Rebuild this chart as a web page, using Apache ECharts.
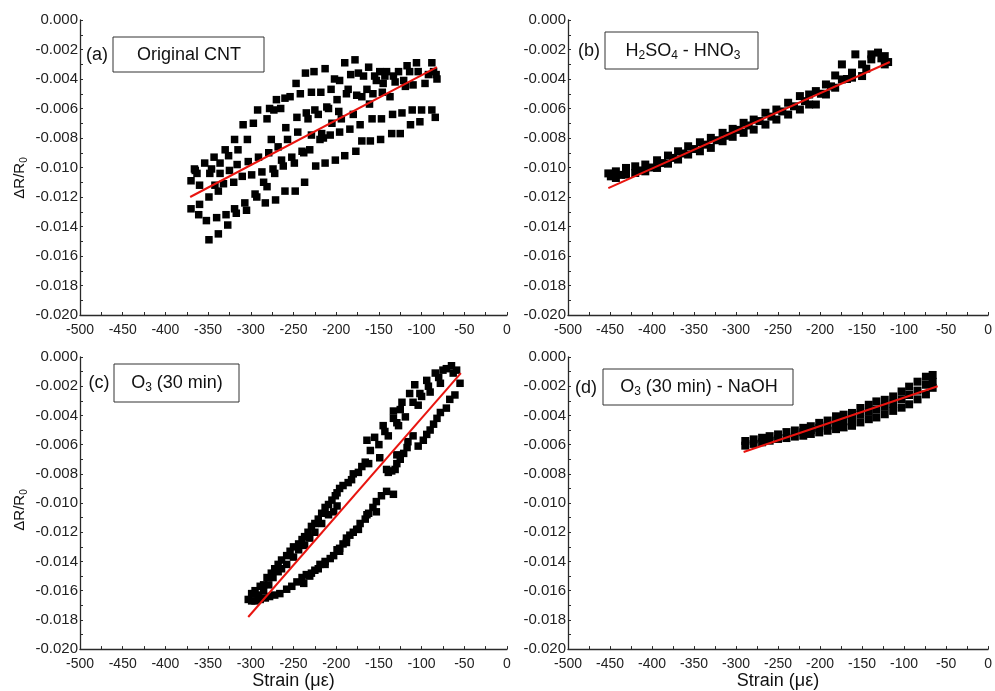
<!DOCTYPE html>
<html>
<head>
<meta charset="utf-8">
<script src="https://cdn.jsdelivr.net/npm/echarts@6/dist/echarts.min.js"></script>
<style>
  html, body { margin: 0; padding: 0; background: #fff; }
  #chart { width: 995px; height: 691px; }
</style>
</head>
<body>
<div id="chart"></div>
<script>
// (a) Original CNT  -- strain (με), ΔR/R0
const pointsA = [
  [-370,-0.0109],[-370,-0.0128],[-366,-0.0101],[-365,-0.0102],[-363,-0.0104],[-360,-0.0112],[-361,-0.0132],[-360,-0.0125],
  [-354,-0.0097],[-352,-0.0136],[-349,-0.0149],[-349,-0.0120],[-348,-0.0104],[-346,-0.0101],[-343,-0.0093],[-342,-0.0112],
  [-340,-0.0134],[-338,-0.0145],[-338,-0.0116],[-336,-0.0097],[-336,-0.0104],[-332,-0.0111],[-330,-0.0088],[-329,-0.0132],
  [-327,-0.0139],[-326,-0.0092],[-325,-0.0102],[-320,-0.0110],[-319,-0.0081],[-319,-0.0128],[-317,-0.0131],[-316,-0.0098],
  [-315,-0.0088],[-310,-0.0106],[-309,-0.0071],[-307,-0.0124],[-305,-0.0129],[-304,-0.0081],[-303,-0.0096],[-299,-0.0105],
  [-297,-0.0070],[-295,-0.0118],[-293,-0.0120],[-292,-0.0061],[-291,-0.0093],[-287,-0.0103],[-285,-0.0110],[-283,-0.0124],
  [-281,-0.0113],[-281,-0.0067],[-279,-0.0090],[-278,-0.0060],[-276,-0.0081],[-274,-0.0101],[-273,-0.0061],[-272,-0.0104],
  [-271,-0.0122],[-270,-0.0054],[-268,-0.0086],[-265,-0.0060],[-264,-0.0095],[-262,-0.0099],[-260,-0.0053],[-259,-0.0073],
  [-260,-0.0116],[-257,-0.0081],[-254,-0.0052],[-252,-0.0093],[-249,-0.0097],[-248,-0.0116],[-247,-0.0043],[-246,-0.0066],
  [-245,-0.0076],[-242,-0.0050],[-240,-0.0089],[-238,-0.0090],[-236,-0.0036],[-237,-0.0110],[-235,-0.0063],[-233,-0.0067],
  [-231,-0.0088],[-229,-0.0078],[-229,-0.0049],[-226,-0.0035],[-225,-0.0061],[-224,-0.0099],[-221,-0.0064],[-219,-0.0081],
  [-218,-0.0049],[-217,-0.0077],[-215,-0.0080],[-213,-0.0033],[-213,-0.0097],[-211,-0.0059],[-209,-0.0060],[-207,-0.0078],
  [-205,-0.0070],[-206,-0.0047],[-202,-0.0040],[-201,-0.0095],[-199,-0.0054],[-197,-0.0062],[-196,-0.0041],[-196,-0.0076],
  [-194,-0.0067],[-190,-0.0029],[-190,-0.0092],[-188,-0.0050],[-186,-0.0047],[-184,-0.0074],[-183,-0.0037],[-180,-0.0064],
  [-178,-0.0027],[-177,-0.0089],[-176,-0.0051],[-174,-0.0036],[-172,-0.0071],[-170,-0.0052],[-170,-0.0082],[-168,-0.0038],
  [-164,-0.0047],[-162,-0.0032],[-161,-0.0057],[-160,-0.0082],[-158,-0.0067],[-157,-0.0050],[-155,-0.0038],[-153,-0.0041],
  [-149,-0.0035],[-148,-0.0081],[-147,-0.0067],[-146,-0.0049],[-145,-0.0043],[-143,-0.0038],[-141,-0.0035],[-137,-0.0052],
  [-135,-0.0077],[-134,-0.0064],[-133,-0.0038],[-131,-0.0042],[-127,-0.0035],[-125,-0.0077],[-123,-0.0063],[-121,-0.0041],
  [-119,-0.0045],[-117,-0.0031],[-114,-0.0035],[-113,-0.0071],[-111,-0.0061],[-110,-0.0044],[-106,-0.0029],[-104,-0.0035],
  [-102,-0.0069],[-100,-0.0061],[-96,-0.0043],[-92,-0.0037],[-88,-0.0029],[-88,-0.0061],[-86,-0.0035],[-84,-0.0066],
  [-83,-0.0037],[-82,-0.0040]
];
const fitA = [[-371,-0.0120],[-82,-0.0032]];

// (b) H2SO4 - HNO3
const pointsB = [
  [-452,-0.01040],[-449,-0.01060],[-443,-0.01026],[-443,-0.01071],[-431,-0.01003],[-431,-0.01048],[-420,-0.00992],[-420,-0.01037],
  [-408,-0.00980],[-408,-0.01026],[-394,-0.00951],[-394,-0.01003],[-381,-0.00919],[-381,-0.00974],[-369,-0.00890],[-369,-0.00946],
  [-357,-0.00856],[-357,-0.00912],[-343,-0.00829],[-343,-0.00890],[-330,-0.00799],[-330,-0.00867],[-316,-0.00765],[-316,-0.00822],
  [-304,-0.00738],[-304,-0.00792],[-291,-0.00697],[-291,-0.00765],[-279,-0.00675],[-279,-0.00743],[-265,-0.00629],[-265,-0.00709],
  [-252,-0.00607],[-252,-0.00675],[-238,-0.00561],[-238,-0.00641],[-224,-0.00516],[-224,-0.00607],[-213,-0.00505],[-213,-0.00573],
  [-205,-0.00482],[-205,-0.00573],[-193,-0.00437],[-193,-0.00505],[-182,-0.00376],[-182,-0.00459],[-174,-0.00301],[-174,-0.00403],
  [-162,-0.00357],[-162,-0.00391],[-158,-0.00233],[-150,-0.00301],[-150,-0.00380],[-139,-0.00233],[-139,-0.00267],[-131,-0.00221],
  [-123,-0.00245],[-123,-0.00301],[-119,-0.00285],
  [-437,-0.01050],[-414,-0.01020],[-401,-0.01000],[-388,-0.00970],[-375,-0.00935],[-363,-0.00905],[-350,-0.00875],
  [-337,-0.00845],[-323,-0.00815],[-310,-0.00785],[-297,-0.00745],[-285,-0.00715],[-272,-0.00685],[-258,-0.00655],
  [-245,-0.00620],[-231,-0.00585],[-218,-0.00550],[-199,-0.00500],[-187,-0.00450],[-168,-0.00400],[-145,-0.00330],
  [-127,-0.00260]
];
const fitB = [[-452,-0.0114],[-117,-0.00285]];

// (c) O3 (30 min)
const pointsC = [
  [-303,-0.0166],[-299,-0.0162],[-295,-0.0160],[-289,-0.0157],[-285,-0.0156],[-281,-0.0151],[-276,-0.0148],[-272,-0.0145],
  [-268,-0.0142],[-264,-0.0139],[-258,-0.0136],[-254,-0.0133],[-250,-0.0130],[-244,-0.0128],[-240,-0.0125],[-237,-0.0123],
  [-233,-0.0120],[-229,-0.0116],[-225,-0.0114],[-221,-0.0111],[-217,-0.0107],[-213,-0.0103],[-209,-0.0101],[-205,-0.0098],
  [-201,-0.0095],[-199,-0.0093],[-196,-0.0090],[-192,-0.0088],[-186,-0.0086],[-182,-0.0084],[-180,-0.0080],[-174,-0.0079],
  [-170,-0.0075],[-166,-0.0072],[-162,-0.0073],[-160,-0.0064],[-164,-0.0057],[-155,-0.0055],[-150,-0.0060],[-145,-0.0047],
  [-143,-0.0051],[-139,-0.0054],[-133,-0.0037],[-133,-0.0042],[-129,-0.0045],[-127,-0.0047],[-125,-0.0036],[-119,-0.0041],
  [-123,-0.0031],[-114,-0.0025],[-108,-0.0019],[-110,-0.0031],[-104,-0.0033],[-102,-0.0025],[-100,-0.0027],[-94,-0.0016],
  [-92,-0.0020],[-90,-0.0024],[-84,-0.0011],[-80,-0.0014],[-78,-0.0018],[-75,-0.0009],[-71,-0.0008],[-65,-0.0006],
  [-63,-0.0011],[-59,-0.0009],
  [-55,-0.0018],[-61,-0.0026],[-67,-0.0029],[-71,-0.0035],[-78,-0.0038],[-82,-0.0042],[-86,-0.0046],[-90,-0.0050],
  [-94,-0.0053],[-98,-0.0057],[-104,-0.0061],[-110,-0.0054],[-116,-0.0058],[-117,-0.0062],[-121,-0.0066],[-125,-0.0070],
  [-129,-0.0073],[-131,-0.0077],[-135,-0.0078],[-139,-0.0079],[-149,-0.0069],[-141,-0.0077],[-129,-0.0067],
  [-133,-0.0094],[-141,-0.0092],[-147,-0.0095],[-153,-0.0099],[-157,-0.0103],[-162,-0.0107],[-166,-0.0111],[-172,-0.0114],
  [-176,-0.0118],[-180,-0.0120],[-184,-0.0122],[-188,-0.0124],[-192,-0.0128],[-196,-0.0131],[-199,-0.0132],[-203,-0.0136],
  [-207,-0.0138],[-213,-0.0140],[-219,-0.0142],[-225,-0.0146],[-229,-0.0148],[-235,-0.0149],[-240,-0.0151],[-246,-0.0154],
  [-252,-0.0157],[-258,-0.0159],[-266,-0.0162],[-272,-0.0163],[-278,-0.0164],[-283,-0.0165],[-289,-0.0166],[-295,-0.0167],
  [-299,-0.0167],[-153,-0.0106],[-164,-0.0108],[-174,-0.0118],[-188,-0.0127],[-196,-0.0133],[-213,-0.0142],[-221,-0.0145],
  [-231,-0.0150],[-238,-0.0155],
  [-199,-0.0102],[-203,-0.0106],[-209,-0.0108],[-217,-0.0114],[-225,-0.0120],[-231,-0.0124],[-237,-0.0129],[-244,-0.0132],
  [-250,-0.0137],[-258,-0.0142],[-264,-0.0145],[-268,-0.0147],[-274,-0.0151],[-279,-0.0156],[-285,-0.0160],[-291,-0.0163]
];
const fitC = [[-303,-0.0178],[-54,-0.0011]];

// (d) O3 (30 min) - NaOH
const pointsD = [
  [-289,-0.00575],[-289,-0.00607],[-279,-0.00564],[-279,-0.00595],[-269,-0.00553],[-269,-0.00584],
  [-260,-0.00542],[-260,-0.00573],[-250,-0.00530],[-250,-0.00561],[-240,-0.00514],[-240,-0.00555],
  [-230,-0.00503],[-230,-0.00545],[-220,-0.00485],[-220,-0.00515],[-220,-0.00539],
  [-211,-0.00474],[-211,-0.00500],[-211,-0.00527],[-201,-0.00451],[-201,-0.00485],[-201,-0.00516],
  [-191,-0.00435],[-191,-0.00470],[-191,-0.00505],[-181,-0.00406],[-181,-0.00450],[-181,-0.00494],
  [-172,-0.00395],[-172,-0.00440],[-172,-0.00482],[-162,-0.00383],[-162,-0.00425],[-162,-0.00471],
  [-152,-0.00349],[-152,-0.00395],[-152,-0.00448],[-142,-0.00327],[-142,-0.00375],[-142,-0.00426],
  [-133,-0.00304],[-133,-0.00360],[-133,-0.00414],[-123,-0.00293],[-123,-0.00340],[-123,-0.00392],
  [-113,-0.00270],[-113,-0.00320],[-113,-0.00369],[-103,-0.00236],[-103,-0.00290],[-103,-0.00347],
  [-94,-0.00203],[-94,-0.00260],[-94,-0.00324],[-84,-0.00169],[-84,-0.00230],[-84,-0.00290],
  [-74,-0.00135],[-74,-0.00190],[-74,-0.00256],[-66,-0.00123],[-66,-0.00170],[-66,-0.00211]
];
const fitD = [[-291,-0.0065],[-60,-0.0020]];

const panelTags = ["(a)", "(b)", "(c)", "(d)"];
const panelNames = ["Original CNT", "H{s|2}SO{s|4} - HNO{s|3}", "O{s|3} (30 min)", "O{s|3} (30 min) - NaOH"];

const FONT = 'Arial, "Liberation Sans", sans-serif';
const AXIS_COLOR = "#2a2a2a";

let chart = echarts.init(document.getElementById("chart"));

// grid boxes, left/top in pixels
const grids = [
  { left: 80, top: 20, width: 427, height: 295 },
  { left: 568, top: 20, width: 427, height: 295 },
  { left: 80, top: 357, width: 427, height: 295 },
  { left: 568, top: 357, width: 427, height: 295 }
];

function xAxisFor(i) {
  return {
    type: "value", gridIndex: i, min: -500, max: 0, interval: 50,
    name: i >= 2 ? "Strain (\u03bc\u03b5)" : "",
    nameLocation: "middle", nameGap: 21,
    nameTextStyle: { fontFamily: FONT, fontSize: 18, color: "#111" },
    axisLine: { show: true, onZero: false, lineStyle: { color: AXIS_COLOR, width: 1.3 } },
    axisTick: { show: true, inside: true, length: 3, lineStyle: { color: AXIS_COLOR } },
    minorTick: { show: true, splitNumber: 2, length: 3, lineStyle: { color: AXIS_COLOR } },
    splitLine: { show: false },
    axisLabel: { fontFamily: FONT, fontSize: 14, color: "#222", margin: 8, hideOverlap: false,
                 showMinLabel: true, showMaxLabel: true }
  };
}

function yAxisFor(i) {
  return {
    type: "value", gridIndex: i, min: -0.02, max: 0, interval: 0.002,
    axisLine: { show: true, onZero: false, lineStyle: { color: AXIS_COLOR, width: 1.3 } },
    axisTick: { show: true, inside: true, length: 3, lineStyle: { color: AXIS_COLOR } },
    minorTick: { show: true, splitNumber: 2, length: 3, lineStyle: { color: AXIS_COLOR } },
    splitLine: { show: false },
    axisLabel: { fontFamily: FONT, fontSize: 15, color: "#222", margin: 2, hideOverlap: false,
                 showMinLabel: true, showMaxLabel: true,
                 formatter: v => (Math.abs(v) < 1e-9 ? 0 : v).toFixed(3) }
  };
}

const allPoints = [pointsA, pointsB, pointsC, pointsD];
const allFits = [fitA, fitB, fitC, fitD];

let series = [];
allPoints.forEach((pts, i) => {
  series.push({
    type: "scatter", xAxisIndex: i, yAxisIndex: i, data: pts,
    symbol: "rect", symbolSize: i % 2 ? 8 : 7.5, itemStyle: { color: "#000", opacity: 1 }, z: 2
  });
});
allFits.forEach((fit, i) => {
  series.push({
    type: "line", xAxisIndex: i, yAxisIndex: i, data: fit,
    showSymbol: false, lineStyle: { color: "#e8140f", width: 2 }, z: 3
  });
});

// tag, box and title positions (pixels)
const tagPos = [[97, 55], [589, 51], [99, 383], [586, 388]];
const boxPos = [[113, 37, 151, 35], [605, 32, 153, 37], [114, 364, 125, 38], [603, 369, 190, 36]];
const namePos = [[189, 55], [683, 51], [177, 383], [699, 387]];

const subRich = {
  t: { fontFamily: FONT, fontSize: 18, lineHeight: 22, fill: "#111" },
  s: { fontFamily: FONT, fontSize: 12, lineHeight: 12, verticalAlign: "bottom", fill: "#111" }
};

let graphic = [];
for (let i = 0; i < 4; i++) {
  let b = boxPos[i];
  graphic.push({
    type: "rect", shape: { x: b[0], y: b[1], width: b[2], height: b[3] },
    style: { fill: "#fff", stroke: "#333", lineWidth: 1 }, z: 10
  });
  graphic.push({
    type: "text", x: tagPos[i][0], y: tagPos[i][1], z: 11,
    style: { text: panelTags[i], font: "18px " + FONT, fill: "#111", align: "center", verticalAlign: "middle" }
  });
  let txt = panelNames[i].replace(/([^{}|]+)(?=\{s\||$)/g, "{t|$1}");
  graphic.push({
    type: "text", x: namePos[i][0], y: namePos[i][1], z: 11,
    style: { text: txt, rich: subRich, align: "center", verticalAlign: "middle" }
  });
}
// y axis titles on the left panels
[[20, 178], [20, 510]].forEach(p => {
  graphic.push({
    type: "text", x: p[0], y: p[1], rotation: Math.PI / 2, z: 11,
    style: {
      text: "{t|\u0394R/R}{s|0}",
      rich: {
        t: { fontFamily: FONT, fontSize: 15, lineHeight: 18, fill: "#111" },
        s: { fontFamily: FONT, fontSize: 10, lineHeight: 10, verticalAlign: "bottom", fill: "#111" }
      },
      align: "center", verticalAlign: "middle"
    }
  });
});

let option = {
  backgroundColor: "#fff",
  animation: false,
  grid: grids,
  xAxis: [0, 1, 2, 3].map(xAxisFor),
  yAxis: [0, 1, 2, 3].map(yAxisFor),
  series: series,
  graphic: graphic
};

chart.setOption(option);
</script>
</body>
</html>
